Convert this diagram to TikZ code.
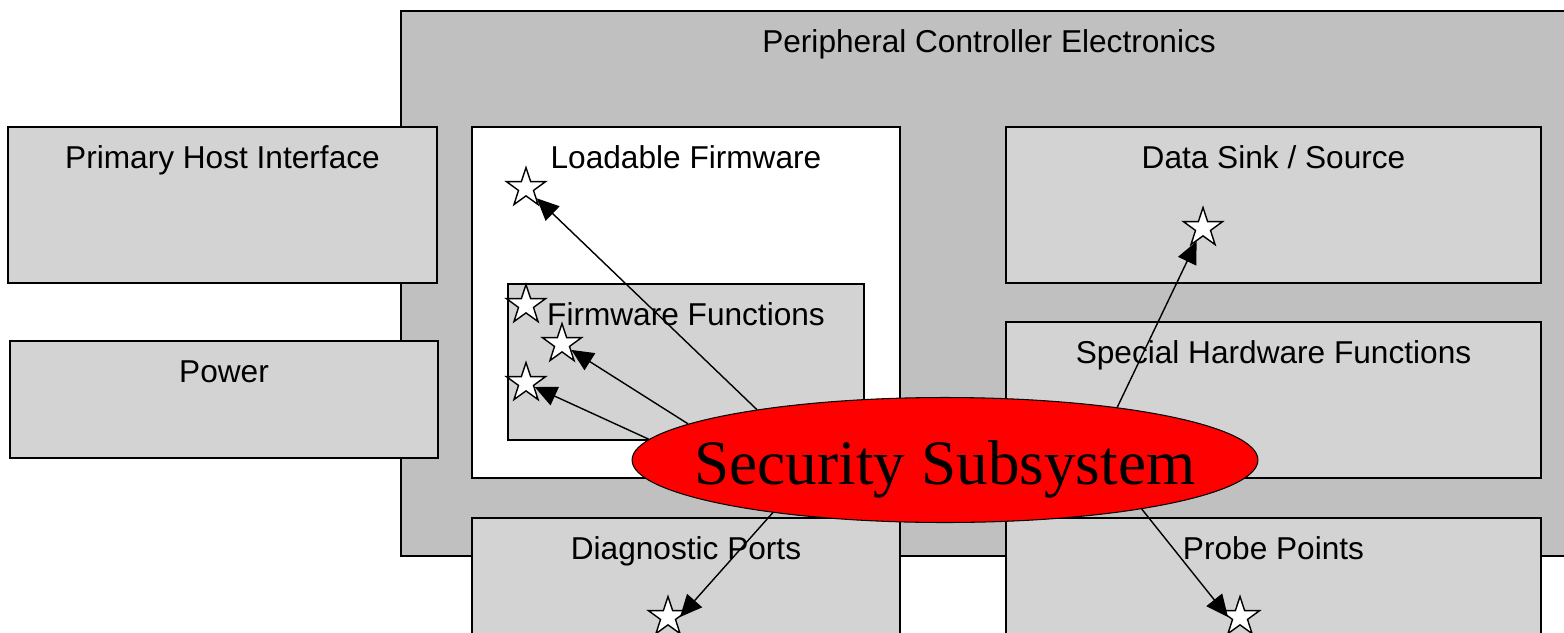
\documentclass[tikz,border=0pt]{standalone}
\usepackage{fontspec}
\setmainfont{Liberation Sans}
\newfontfamily\secfont{Liberation Serif}
\usetikzlibrary{shapes.geometric,arrows.meta}
\definecolor{outergray}{HTML}{C0C0C0}
\definecolor{boxgray}{HTML}{D3D3D3}
\begin{document}
\begin{tikzpicture}[x=0.02cm, y=-0.02cm,
		font=\fontsize{18}{21}\selectfont,
		hwbox/.style={draw, line width=1.1pt, fill=boxgray, inner sep=0pt},
		boxlbl/.style={anchor=base, inner sep=0pt},
		tgt/.style={star, star points=5, star point ratio=2.6, minimum size=0.82cm, inner sep=0pt, draw, line width=0.8pt, fill=white},
		atk/.style={line width=0.8pt, -{Triangle[length=0.44cm, width=0.4cm]}}]
		
		\useasboundingbox (0,0) rectangle (1564,632);
		\clip (0,0) rectangle (1564,632);
		
		% 1. Outer box (Peripheral Controller Electronics)
		\node[hwbox, fill=outergray, minimum width=23.52cm, minimum height=10.9cm] (pce) at (989,283.5) {};
		\node[boxlbl] (pceLbl) at ([yshift=-0.85cm]pce.north) {Peripheral Controller Electronics};
		
		% 2. Left side boxes
		\node[hwbox, minimum width=8.58cm, minimum height=3.12cm] (phi) at (222.5,205) {};
		\node[boxlbl] (phiLbl) at ([yshift=-0.85cm]phi.north) {Primary Host Interface};
		\node[hwbox, minimum width=8.56cm, minimum height=2.34cm] (pwr) at (224,399.5) {};
		\node[boxlbl] (pwrLbl) at ([yshift=-0.85cm]pwr.north) {Power};
		
		% 3. Loadable Firmware (white) with Firmware Functions inside
		\node[hwbox, fill=white, minimum width=8.56cm, minimum height=7.02cm] (lf) at (686,302.5) {};
		\node[boxlbl] (lfLbl) at ([yshift=-0.85cm]lf.north) {Loadable Firmware};
		\node[hwbox, minimum width=7.12cm, minimum height=3.12cm] (ff) at (686,362) {};
		\node[boxlbl] (ffLbl) at ([yshift=-0.85cm]ff.north) {Firmware Functions};
		
		% 4. Right side boxes
		\node[hwbox, minimum width=10.7cm, minimum height=3.12cm] (ds) at (1273.5,205) {};
		\node[boxlbl] (dsLbl) at ([yshift=-0.85cm]ds.north) {Data Sink / Source};
		\node[hwbox, minimum width=10.7cm, minimum height=3.12cm] (shf) at (1273.5,400) {};
		\node[boxlbl] (shfLbl) at ([yshift=-0.85cm]shf.north) {Special Hardware Functions};
		
		% 5. Bottom boxes (cut by the page edge)
		\node[hwbox, minimum width=8.56cm, minimum height=3.12cm] (diag) at (686,596) {};
		\node[boxlbl] (diagLbl) at ([yshift=-0.85cm]diag.north) {Diagnostic Ports};
		\node[hwbox, minimum width=10.7cm, minimum height=3.12cm] (prb) at (1273.5,596) {};
		\node[boxlbl] (prbLbl) at ([yshift=-0.85cm]prb.north) {Probe Points};
		
		% 6. Security Subsystem ellipse
		\node[ellipse, draw, fill=red, line width=0.6pt, inner sep=0pt, minimum width=12.52cm, minimum height=2.5cm] (sec) at (945,460) {};
		\node[anchor=base, inner sep=0pt, font=\secfont\fontsize{36}{40}\selectfont] (secLbl) at (945,484) {Security Subsystem};
		
		% --- Targets ---
		\node[tgt] (lfStar) at (526,188) {};
		\node[tgt] (ffStarA) at (526,305) {};
		\node[tgt] (ffStarB) at (562,344) {};
		\node[tgt] (ffStarC) at (526,383) {};
		\node[tgt] (dsStar) at (1203,228) {};
		\node[tgt] (diagStar) at (668,617) {};
		\node[tgt] (prbStar) at (1240,617) {};
		
		% --- Attacks from the ellipse ---
		\draw[atk] (sec.165) -- (lfStar);
		\draw[atk] (sec.172) -- (ffStarB);
		\draw[atk] (sec.176) -- (ffStarC);
		\draw[atk] (sec.17) -- (dsStar);
		\draw[atk] (sec.197) -- (diagStar.east);
		\draw[atk] (sec.346) -- (prbStar.west);
		
	\end{tikzpicture}
\end{document}
